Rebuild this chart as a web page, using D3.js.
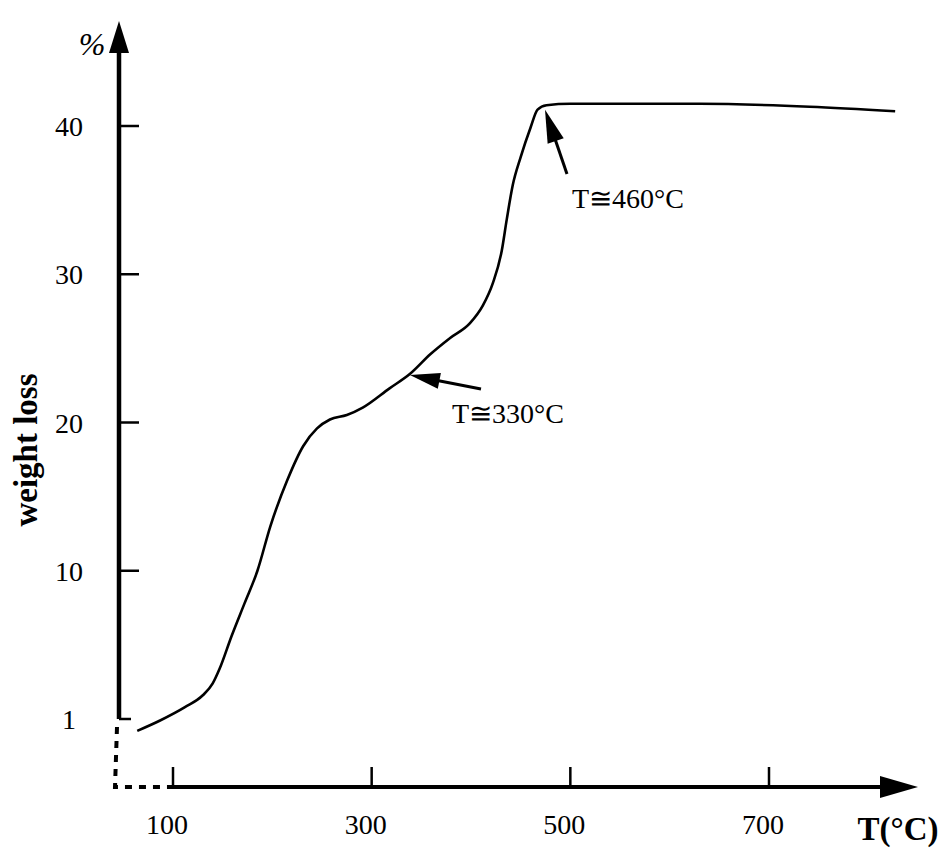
<!DOCTYPE html>
<html>
<head>
<meta charset="utf-8">
<script src="https://cdn.jsdelivr.net/npm/d3@7"></script>
<style>
  html, body { margin: 0; padding: 0; background: #fff; }
  svg { display: block; }
  text { font-family: "Liberation Serif", "Times New Roman", serif; fill: #000; }
</style>
</head>
<body>
<svg id="chart" width="946" height="851"></svg>
<script>
// ---- data ----
const temperatures = [64, 87, 112, 130, 140, 147, 159, 172, 185, 198, 215, 231, 245, 258, 275, 291, 318, 339, 359, 379, 399, 412, 422, 431, 436, 442, 450, 460, 467, 476, 500, 630, 741, 827];
const weightLoss   = [-0.8, -0.1, 0.8, 1.6, 2.4, 3.4, 5.6, 7.8, 10.0, 13.0, 16.1, 18.4, 19.6, 20.2, 20.5, 21.0, 22.3, 23.3, 24.6, 25.7, 26.7, 27.9, 29.4, 31.6, 33.7, 36.0, 37.9, 39.9, 41.1, 41.4, 41.5, 41.5, 41.3, 41.0];
const xTickValues = [100, 300, 500, 700];
const xTickLabels = ["100", "300", "500", "700"];
const yTickValues = [0, 10, 20, 30, 40];
const yTickLabels = ["1", "10", "20", "30", "40"];
const annotationText = ["T\u2245330\u00B0C", "T\u2245460\u00B0C"];
const annotationTipT = [338.5, 474.5];   // point on the curve the arrow touches
const annotationTipV = [23.2, 41.1];

// ---- scales ----
const svg = d3.select("#chart");
const x = d3.scaleLinear().domain([100, 700]).range([173, 769]);
const y = d3.scaleLinear().domain([0, 40]).range([719, 126]);

const axisX0 = 119;   // y-axis position
const axisY0 = 787;   // x-axis position

function arrow(x1, y1, x2, y2, headLen, headW, sw) {
  const dx = x2 - x1, dy = y2 - y1, L = Math.hypot(dx, dy);
  const ux = dx / L, uy = dy / L;
  const bx = x2 - ux * headLen, by = y2 - uy * headLen;
  svg.append("line").attr("x1", x1).attr("y1", y1).attr("x2", bx + ux * 2).attr("y2", by + uy * 2)
    .attr("stroke", "#000").attr("stroke-width", sw);
  const px = -uy * headW / 2, py = ux * headW / 2;
  svg.append("path").attr("d", `M${x2},${y2} L${bx + px},${by + py} L${bx - px},${by - py} Z`).attr("fill", "#000");
}

// ---- y axis ----
svg.append("line").attr("x1", axisX0).attr("x2", axisX0)
  .attr("y1", y(0)).attr("y2", 50)
  .attr("stroke", "#000").attr("stroke-width", 4.5);
svg.append("path").attr("d", `M${axisX0 - 10},${53} L${axisX0},${21} L${axisX0 + 10},${53} Z`).attr("fill", "#000");

svg.selectAll(".ytick").data(yTickValues).enter().append("line")
  .attr("x1", axisX0).attr("x2", d => axisX0 + (d === 0 ? 12 : 20))
  .attr("y1", d => y(d)).attr("y2", d => y(d))
  .attr("stroke", "#000").attr("stroke-width", 2.5);
svg.selectAll(".ylab").data(yTickValues).enter().append("text")
  .attr("x", 69).attr("y", d => y(d) + 10)
  .attr("text-anchor", "middle").attr("font-size", 28)
  .text((d, i) => yTickLabels[i]);

// ---- broken axis (dashed) ----
svg.append("path")
  .attr("d", `M${axisX0 - 2},${y(0) + 8} L${axisX0 - 4},${axisY0} L${x(100)},${axisY0}`)
  .attr("fill", "none").attr("stroke", "#000").attr("stroke-width", 4)
  .attr("stroke-dasharray", "7,7");

// ---- x axis ----
svg.append("line").attr("x1", x(100)).attr("x2", 884)
  .attr("y1", axisY0).attr("y2", axisY0)
  .attr("stroke", "#000").attr("stroke-width", 4);
svg.append("path").attr("d", `M${880},${axisY0 - 11} L${918},${axisY0} L${880},${axisY0 + 11} Z`).attr("fill", "#000");

svg.selectAll(".xtick").data(xTickValues).enter().append("line")
  .attr("x1", d => x(d)).attr("x2", d => x(d))
  .attr("y1", axisY0).attr("y2", axisY0 - 20)
  .attr("stroke", "#000").attr("stroke-width", 2.5);
svg.selectAll(".xlab").data(xTickValues).enter().append("text")
  .attr("x", d => x(d) - 6).attr("y", 834)
  .attr("text-anchor", "middle").attr("font-size", 28)
  .text((d, i) => xTickLabels[i]);

// ---- axis titles ----
svg.append("text").attr("x", 92).attr("y", 55).attr("text-anchor", "middle")
  .attr("font-size", 32).attr("font-style", "italic").text("%");
svg.append("text").attr("x", 898).attr("y", 840).attr("text-anchor", "middle")
  .attr("font-size", 33).attr("font-weight", "bold").text("T(\u00B0C)");
svg.append("text").attr("transform", "translate(37,450) rotate(-90)")
  .attr("text-anchor", "middle").attr("font-size", 33).attr("font-weight", "bold")
  .text("weight loss");

// ---- curve ----
const pts = temperatures.map((t, i) => [t, weightLoss[i]]);
const line = d3.line().x(d => x(d[0])).y(d => y(d[1])).curve(d3.curveMonotoneX);
svg.append("path").datum(pts).attr("d", line)
  .attr("fill", "none").attr("stroke", "#000").attr("stroke-width", 2.6);

// ---- annotations ----
arrow(481, 389, x(annotationTipT[0]), y(annotationTipV[0]), 30, 16, 3);
svg.append("text").attr("x", 452).attr("y", 423).attr("font-size", 28).text(annotationText[0]);
arrow(567, 174, x(annotationTipT[1]), y(annotationTipV[1]), 33, 17, 3);
svg.append("text").attr("x", 572).attr("y", 208).attr("font-size", 28).text(annotationText[1]);
</script>
</body>
</html>
